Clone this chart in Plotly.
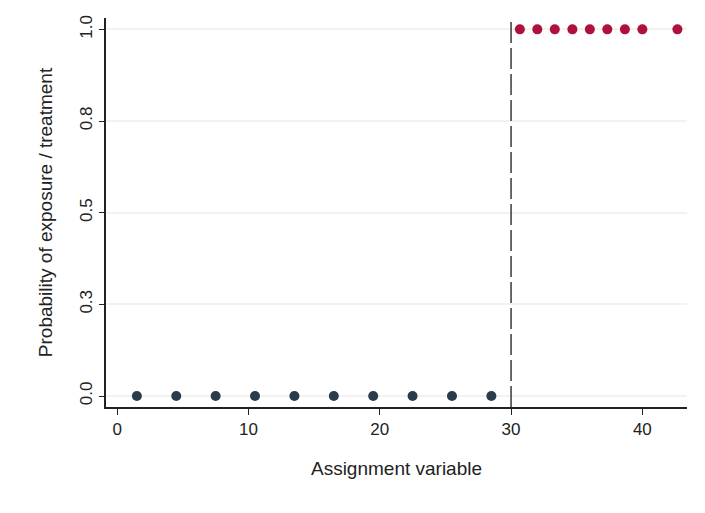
import plotly.graph_objects as go

control_x = [1.5, 4.5, 7.5, 10.5, 13.5, 16.5, 19.5, 22.5, 25.5, 28.5]
control_y = [0, 0, 0, 0, 0, 0, 0, 0, 0, 0]
treated_x = [30.67, 32.0, 33.33, 34.67, 36.0, 37.33, 38.67, 40.0, 42.67]
treated_y = [1, 1, 1, 1, 1, 1, 1, 1, 1]
cutoff = 30
y_tickvals = [0, 0.25, 0.5, 0.75, 1.0]
y_ticktext = ["0.0", "0.3", "0.5", "0.8", "1.0"]
x_tickvals = [0, 10, 20, 30, 40]

font = "Liberation Sans, Arial, sans-serif"

fig = go.Figure()
fig.add_trace(go.Scatter(x=control_x, y=control_y, mode="markers",
                         marker=dict(size=10, color="#2a3b4c"), showlegend=False))
fig.add_trace(go.Scatter(x=treated_x, y=treated_y, mode="markers",
                         marker=dict(size=10, color="#b0103e"), showlegend=False))
fig.add_shape(type="line", x0=cutoff, x1=cutoff, xref="x", y0=0, y1=1, yref="paper",
              line=dict(color="#3a3a3a", width=1.5, dash="21px,5px"))

fig.update_layout(
    width=697, height=505,
    margin=dict(l=98, r=18, t=10, b=106),
    paper_bgcolor="white", plot_bgcolor="white",
    font=dict(family=font, size=16, color="#222222"),
    xaxis=dict(range=[-0.85, 43.4], tickvals=x_tickvals, showline=True, linecolor="#222222",
               linewidth=1.5, ticks="outside", ticklen=6, tickcolor="#222222", showgrid=False,
               zeroline=False, title=dict(text="Assignment variable", standoff=24),
               tickfont=dict(size=17), automargin=False),
    yaxis=dict(range=[-0.03, 1.031], tickvals=y_tickvals, ticktext=y_ticktext, tickangle=-90,
               showline=True, linecolor="#222222", linewidth=1.5, ticks="outside", ticklen=5,
               tickcolor="#222222", showgrid=True, gridcolor="#f2f2f2", gridwidth=2,
               zeroline=False, title=dict(text="Probability of exposure / treatment", standoff=20),
               tickfont=dict(size=17), automargin=False),
)
fig.write_html("out.html")
